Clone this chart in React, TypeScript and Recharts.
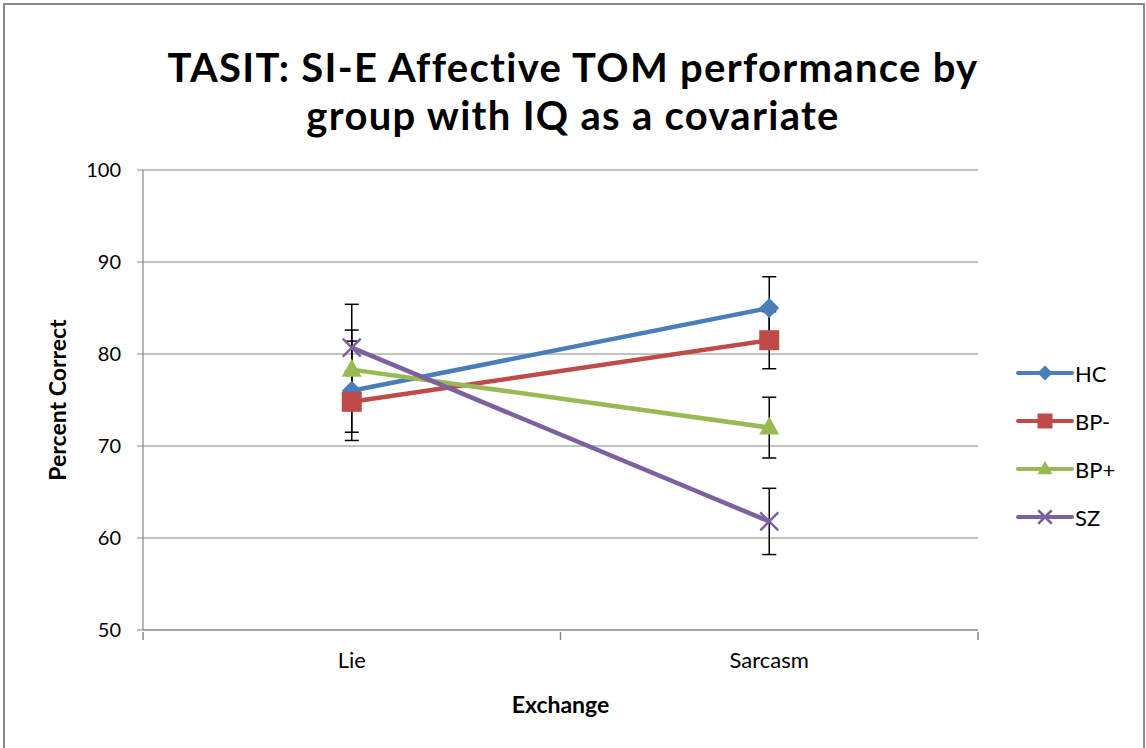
import React from 'react';
import { LineChart, Line, XAxis, YAxis, CartesianGrid, ErrorBar, Legend } from 'recharts';

const categories = ['Lie', 'Sarcasm'];
const hcValues = [76.0, 85.0];
const hcErrors = [5.4, 3.4];
const bpMinusValues = [74.8, 81.5];
const bpMinusErrors = [3.3, 3.1];
const bpPlusValues = [78.3, 72.0];
const bpPlusErrors = [4.3, 3.3];
const szValues = [80.7, 61.8];
const szErrors = [4.7, 3.6];
const yTicks = [50, 60, 70, 80, 90, 100];

const FONT = 'Lato, "Open Sans", sans-serif';
const GRID = '#868686';

const data = categories.map((name, i) => ({
  x: i + 0.5,
  name,
  hc: hcValues[i],
  hcErr: hcErrors[i],
  bpMinus: bpMinusValues[i],
  bpMinusErr: bpMinusErrors[i],
  bpPlus: bpPlusValues[i],
  bpPlusErr: bpPlusErrors[i],
  sz: szValues[i],
  szErr: szErrors[i],
}));

const series = [
  { key: 'hc', name: 'HC', color: '#4A7EBB', shape: 'diamond' },
  { key: 'bpMinus', name: 'BP-', color: '#BE4B48', shape: 'square' },
  { key: 'bpPlus', name: 'BP+', color: '#98B954', shape: 'triangle' },
  { key: 'sz', name: 'SZ', color: '#7D60A0', shape: 'x' },
];

const Marker = ({ shape, cx, cy, color, s = 1 }: any) => {
  if (shape === 'diamond') {
    const r = 10 * s;
    return <polygon points={`${cx},${cy - r} ${cx + r},${cy} ${cx},${cy + r} ${cx - r},${cy}`} fill={color} />;
  }
  if (shape === 'square') {
    const h = 10 * s;
    return <rect x={cx - h} y={cy - h} width={2 * h} height={2 * h} fill={color} />;
  }
  if (shape === 'triangle') {
    const w = 10 * s;
    return <polygon points={`${cx},${cy - 11 * s} ${cx + w},${cy + 7 * s} ${cx - w},${cy + 7 * s}`} fill={color} />;
  }
  const r = 9 * s;
  return (
    <g stroke={color} strokeWidth={2.5}>
      <line x1={cx - r} y1={cy - r} x2={cx + r} y2={cy + r} />
      <line x1={cx - r} y1={cy + r} x2={cx + r} y2={cy - r} />
    </g>
  );
};

const makeDot = (shape: string, color: string) => (props: any) => (
  <Marker key={`${shape}-${props.index}`} shape={shape} cx={props.cx} cy={props.cy} color={color} />
);

const XTick = ({ x, y, payload }: any) => {
  const v = payload.value;
  if (Number.isInteger(v)) {
    return <line x1={x} y1={y - 6} x2={x} y2={y + 2} stroke={GRID} strokeWidth={1.5} />;
  }
  return (
    <text x={x} y={y + 30} textAnchor="middle" fontSize={22} fontFamily={FONT} fill="#000">
      {categories[Math.floor(v)]}
    </text>
  );
};

const LegendContent = () => (
  <div style={{ paddingLeft: 38 }}>
    {series.map(s => (
      <div key={s.key} style={{ display: 'flex', alignItems: 'center', height: 48 }}>
        <svg width={58} height={24}>
          <line x1={2} y1={12} x2={56} y2={12} stroke={s.color} strokeWidth={4} strokeLinecap="round" />
          <Marker shape={s.shape} cx={29} cy={12} color={s.color} s={0.75} />
        </svg>
        <span style={{ fontFamily: FONT, fontSize: 22, color: '#000', marginLeft: 1 }}>{s.name}</span>
      </div>
    ))}
  </div>
);

export default function App() {
  return (
    <div style={{ position: 'absolute', left: 0, top: 0, width: 1146, height: 748, background: '#fff', overflow: 'hidden' }}>
      <div style={{ position: 'absolute', left: 3, top: 3, width: 1138, height: 780, border: '2px solid #8a8a8a' }} />
      <div
        style={{
          position: 'absolute', left: 0, top: 43, width: 1146, textAlign: 'center',
          fontFamily: FONT, fontWeight: 'bold', fontSize: 40, lineHeight: '48px', letterSpacing: 1.3, color: '#000',
        }}
      >
        TASIT: SI-E Affective TOM performance by
        <br />
        group with IQ as a covariate
      </div>
      <div style={{ position: 'absolute', left: 0, top: 0 }}>
        <LineChart width={1146} height={748} data={data} margin={{ top: 170, right: 0, bottom: 18, left: 53 }}>
          <CartesianGrid vertical={false} stroke={GRID} strokeWidth={1.2} />
          <XAxis
            dataKey="x"
            type="number"
            domain={[0, 2]}
            ticks={[0, 0.5, 1, 1.5, 2]}
            interval={0}
            tick={<XTick />}
            tickLine={false}
            axisLine={{ stroke: GRID, strokeWidth: 1.2 }}
            height={100}
            label={{ value: 'Exchange', position: 'insideBottom', offset: 17, fontSize: 23, fontWeight: 'bold', fontFamily: FONT, fill: '#000' }}
          />
          <YAxis
            domain={[50, 100]}
            ticks={yTicks}
            interval={0}
            width={90}
            tickSize={6}
            tickMargin={16}
            tickLine={{ stroke: GRID }}
            axisLine={{ stroke: GRID, strokeWidth: 1.2 }}
            tick={{ fontSize: 20, fontFamily: FONT, fill: '#000' }}
            label={{ value: 'Percent Correct', angle: -90, position: 'insideLeft', offset: 5, fontSize: 23, fontWeight: 'bold', fontFamily: FONT, fill: '#000', style: { textAnchor: 'middle' } }}
          />
          <Legend
            layout="vertical"
            align="right"
            verticalAlign="middle"
            width={168}
            wrapperStyle={{ top: 349 }}
            content={<LegendContent />}
          />
          {series.map(s => (
            <Line
              key={s.key}
              dataKey={s.key}
              name={s.name}
              stroke={s.color}
              strokeWidth={4.5}
              dot={makeDot(s.shape, s.color)}
              activeDot={false}
              isAnimationActive={false}
            >
              <ErrorBar dataKey={`${s.key}Err`} direction="y" width={7} stroke="#000" strokeWidth={1.5} />
            </Line>
          ))}
        </LineChart>
      </div>
    </div>
  );
}
